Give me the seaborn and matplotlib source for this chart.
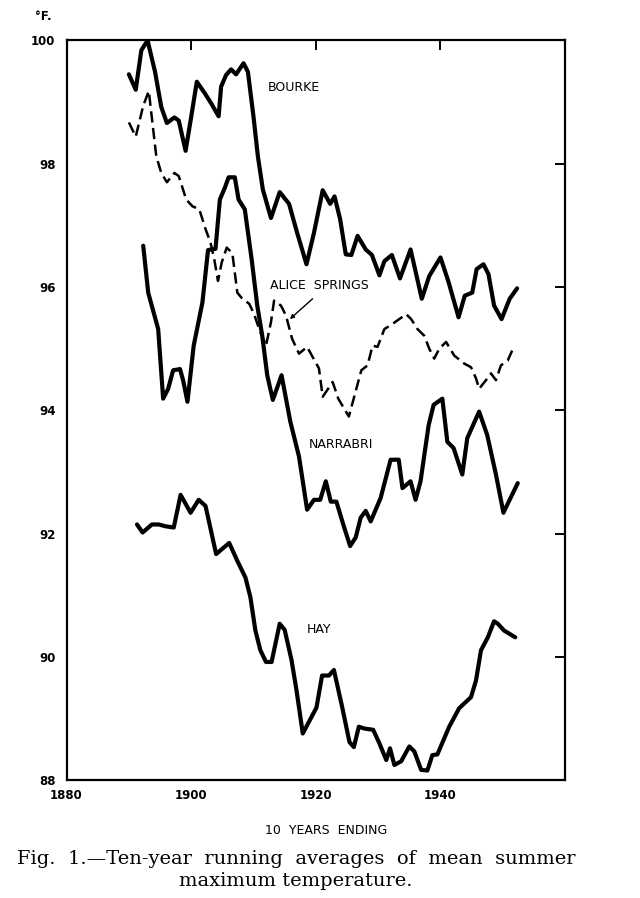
import matplotlib
matplotlib.use("Agg")
import matplotlib.pyplot as plt
import seaborn as sns
import pandas as pd

# ten-year running averages (year = end of 10-yr period)
bourke_year = [1890.0, 1891.1, 1892.0, 1893.0, 1894.2, 1895.2, 1896.1, 1897.3, 1898.0, 1899.1,
               1900.0, 1900.9, 1902.2, 1903.2, 1904.4, 1904.8, 1905.6, 1906.4, 1907.2, 1908.4,
               1909.1, 1910.0, 1910.7, 1911.5, 1912.8, 1914.2, 1915.7, 1917.0, 1918.5, 1919.7,
               1921.1, 1922.3, 1923.0, 1923.9, 1924.8, 1925.7, 1926.7, 1928.0, 1929.0, 1930.2,
               1931.0, 1932.2, 1933.5, 1935.2, 1937.0, 1938.2, 1940.0, 1941.3, 1942.9, 1943.9,
               1945.1, 1945.8, 1946.9, 1947.7, 1948.6, 1949.8, 1951.1, 1952.3]
bourke_temp = [99.45, 99.20, 99.84, 100.0, 99.49, 98.92, 98.66, 98.75, 98.70, 98.21,
               98.76, 99.33, 99.14, 98.98, 98.77, 99.25, 99.44, 99.53, 99.45, 99.63,
               99.49, 98.76, 98.12, 97.58, 97.12, 97.54, 97.35, 96.88, 96.37, 96.88,
               97.57, 97.35, 97.47, 97.10, 96.53, 96.52, 96.83, 96.61, 96.52, 96.19,
               96.42, 96.52, 96.14, 96.61, 95.81, 96.18, 96.48, 96.08, 95.51, 95.86,
               95.91, 96.29, 96.37, 96.21, 95.70, 95.48, 95.81, 95.98]

alice_year = [1890.0, 1891.1, 1892.3, 1893.2, 1893.6, 1894.4, 1895.2, 1896.1, 1897.3, 1898.0,
              1899.2, 1900.2, 1901.3, 1902.3, 1903.1, 1903.7, 1904.3, 1904.9, 1905.7, 1906.6,
              1907.4, 1908.2, 1909.3, 1910.1, 1910.9, 1912.0, 1912.8, 1913.3, 1914.4, 1915.2,
              1916.2, 1917.3, 1918.6, 1920.5, 1921.1, 1922.7, 1923.6, 1925.3, 1926.5, 1927.3,
              1928.3, 1929.1, 1929.9, 1931.0, 1932.0, 1933.1, 1934.5, 1935.3, 1936.3, 1937.4,
              1938.2, 1939.0, 1939.8, 1940.9, 1942.2, 1943.8, 1944.9, 1945.7, 1946.2, 1947.3,
              1948.1, 1948.9, 1949.7, 1950.8, 1951.5]
alice_temp = [98.67, 98.44, 98.94, 99.18, 98.82, 98.12, 97.85, 97.70, 97.85, 97.80,
              97.42, 97.31, 97.26, 96.94, 96.72, 96.45, 96.10, 96.40, 96.64, 96.55,
              95.91, 95.81, 95.73, 95.56, 95.32, 95.05, 95.43, 95.78, 95.70, 95.54,
              95.16, 94.92, 95.03, 94.68, 94.22, 94.46, 94.19, 93.90, 94.35, 94.65,
              94.73, 95.05, 95.03, 95.32, 95.38, 95.46, 95.56, 95.48, 95.32, 95.21,
              95.00, 94.84, 95.00, 95.11, 94.89, 94.76, 94.70, 94.52, 94.35, 94.49,
              94.60, 94.49, 94.73, 94.81, 94.97]

narrabri_year = [1892.3, 1893.1, 1894.7, 1895.5, 1896.3, 1897.1, 1898.2, 1898.7, 1899.4, 1900.4,
                 1901.8, 1902.7, 1903.9, 1904.6, 1905.4, 1906.0, 1907.0, 1907.6, 1908.6, 1909.7,
                 1910.6, 1911.4, 1912.2, 1913.1, 1914.5, 1915.9, 1917.3, 1918.6, 1919.7, 1920.7,
                 1921.6, 1922.4, 1923.3, 1924.4, 1925.5, 1926.4, 1927.2, 1928.0, 1928.8, 1930.4,
                 1932.0, 1933.3, 1933.9, 1935.2, 1936.0, 1936.8, 1938.1, 1938.9, 1940.3, 1941.1,
                 1942.1, 1943.5, 1944.3, 1946.2, 1947.5, 1948.9, 1950.1, 1951.0, 1952.4]
narrabri_temp = [96.67, 95.91, 95.32, 94.19, 94.35, 94.65, 94.67, 94.49, 94.14, 95.05,
                 95.75, 96.60, 96.62, 97.42, 97.61, 97.78, 97.78, 97.42, 97.26, 96.45,
                 95.70, 95.21, 94.57, 94.17, 94.57, 93.82, 93.25, 92.39, 92.55, 92.55,
                 92.85, 92.52, 92.52, 92.15, 91.80, 91.94, 92.26, 92.37, 92.20, 92.58,
                 93.20, 93.20, 92.74, 92.85, 92.55, 92.85, 93.76, 94.09, 94.19, 93.49,
                 93.39, 92.96, 93.55, 93.98, 93.60, 92.96, 92.34, 92.53, 92.82]

hay_year = [1891.3, 1892.2, 1893.7, 1894.8, 1895.9, 1897.2, 1898.3, 1899.9, 1901.2, 1902.3,
            1904.0, 1906.1, 1907.4, 1908.7, 1909.5, 1910.3, 1911.1, 1912.0, 1912.9, 1914.2,
            1915.0, 1916.1, 1916.9, 1917.9, 1920.1, 1921.0, 1922.1, 1922.9, 1924.2, 1925.4,
            1926.1, 1926.9, 1927.8, 1929.2, 1930.2, 1931.3, 1931.9, 1932.6, 1933.7, 1935.0,
            1935.8, 1936.9, 1937.9, 1938.7, 1939.5, 1941.4, 1943.0, 1944.9, 1945.7, 1946.5,
            1947.6, 1948.6, 1949.2, 1950.2, 1952.0]
hay_temp = [92.15, 92.02, 92.15, 92.15, 92.12, 92.10, 92.63, 92.34, 92.55, 92.45,
            91.67, 91.85, 91.56, 91.29, 90.97, 90.43, 90.11, 89.92, 89.92, 90.54,
            90.44, 89.95, 89.46, 88.76, 89.18, 89.70, 89.70, 89.79, 89.20, 88.62,
            88.54, 88.87, 88.84, 88.82, 88.60, 88.33, 88.52, 88.25, 88.31, 88.55,
            88.47, 88.17, 88.16, 88.41, 88.42, 88.87, 89.17, 89.35, 89.62, 90.11,
            90.32, 90.58, 90.54, 90.43, 90.32]

x_ticks = [1880, 1900, 1920, 1940]
y_ticks = [88, 90, 92, 94, 96, 98, 100]

sns.set_style("white")
plt.rcParams['font.family'] = ['DejaVu Sans']
plt.rcParams['text.color'] = 'black'

fig = plt.figure(figsize=(6.4, 8.98), dpi=100)
ax = fig.add_axes([0.104, 0.131, 0.779, 0.824])

solid = dict(color='black', linewidth=3.0, solid_joinstyle='round', solid_capstyle='round')
for yr, tp in [(bourke_year, bourke_temp), (narrabri_year, narrabri_temp), (hay_year, hay_temp)]:
    df = pd.DataFrame({'year': yr, 'temp': tp})
    sns.lineplot(ax=ax, data=df, x='year', y='temp', estimator=None, sort=False, **solid)

df_alice = pd.DataFrame({'year': alice_year, 'temp': alice_temp})
sns.lineplot(ax=ax, data=df_alice, x='year', y='temp', estimator=None, sort=False,
             color='black', linewidth=1.8, dashes=False)
ax.lines[-1].set_dashes([4.5, 2.2])

ax.set_xlim(1880, 1960)
ax.set_ylim(88, 100)
ax.set_xticks(x_ticks)
ax.set_yticks(y_ticks)
ax.set_xlabel('')
ax.set_ylabel('')
ax.tick_params(direction='in', length=7, width=1.4, top=True, right=True,
               labelsize=8.5, colors='black')
ax.tick_params(axis='y', pad=8)
ax.tick_params(axis='x', pad=6)
for lbl in ax.get_xticklabels() + ax.get_yticklabels():
    lbl.set_fontweight('bold')
for s in ax.spines.values():
    s.set_visible(True)
    s.set_linewidth(1.6)
    s.set_color('black')

# station labels
lab = dict(fontsize=9, ha='center', va='center', color='black')
ax.text(1916.5, 99.24, 'BOURKE', **lab)
ax.text(1920.6, 96.02, 'ALICE  SPRINGS', **lab)
ax.text(1924.1, 93.44, 'NARRABRI', **lab)
ax.text(1920.5, 90.45, 'HAY', **lab)
ax.annotate('', xy=(1915.5, 95.45), xytext=(1919.8, 95.84),
            arrowprops=dict(arrowstyle='-|>', color='black', lw=1.0, mutation_scale=6))

fig.text(43 / 640, 1 - 16 / 898, '°F.', fontsize=8.5, fontweight='bold', ha='center', va='center')
fig.text(326 / 640, 1 - 830 / 898, '10  YEARS  ENDING', fontsize=9, ha='center', va='center')
fig.text(296 / 640, 1 - 859 / 898, 'Fig.  1.—Ten-year  running  averages  of  mean  summer',
         fontsize=14, family='DejaVu Serif', ha='center', va='center', color='black')
fig.text(296 / 640, 1 - 881 / 898, 'maximum temperature.',
         fontsize=14, family='DejaVu Serif', ha='center', va='center', color='black')

fig.savefig('out.png', dpi=100, facecolor='white')
